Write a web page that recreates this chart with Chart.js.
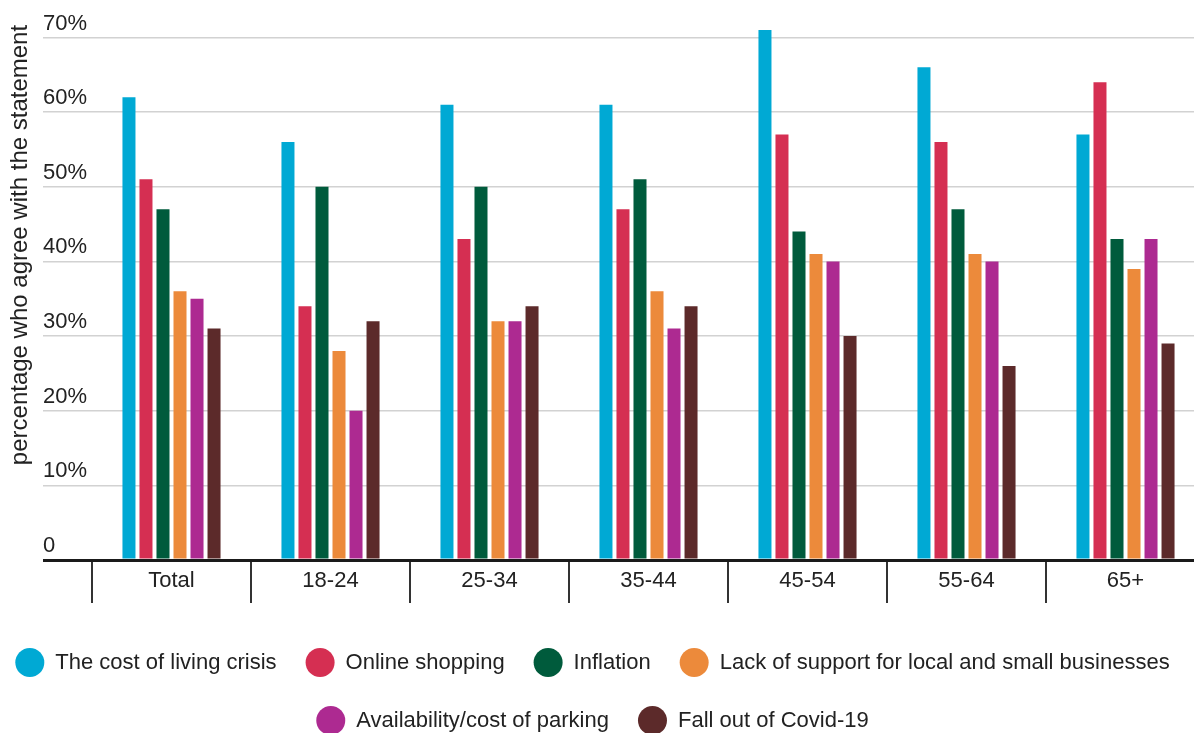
<!DOCTYPE html>
<html>
<head>
<meta charset="utf-8">
<script src="https://cdn.jsdelivr.net/npm/chart.js@4/dist/chart.umd.min.js"></script>
<style>
  html, body { margin: 0; padding: 0; width: 1194px; height: 733px; overflow: hidden; background: #fff; }
  #wrap { position: absolute; left: -20px; top: -70px; width: 1225px; height: 815px; }
</style>
</head>
<body>
<div id="wrap"><canvas id="c"></canvas></div>
<script>
const categories = ['Total', '18-24', '25-34', '35-44', '45-54', '55-64', '65+'];
const costOfLiving   = [62, 56, 61, 61, 71, 66, 57];
const onlineShopping = [51, 34, 43, 47, 57, 56, 64];
const inflation      = [47, 50, 50, 51, 44, 47, 43];
const lackOfSupport  = [36, 28, 32, 36, 41, 41, 39];
const parking        = [35, 20, 32, 31, 40, 40, 43];
const covid          = [31, 32, 34, 34, 30, 26, 29];
const seriesNames = ['The cost of living crisis', 'Online shopping', 'Inflation',
  'Lack of support for local and small businesses', 'Availability/cost of parking', 'Fall out of Covid-19'];
const yTicks = [0, 10, 20, 30, 40, 50, 60, 70];
const yTickLabels = ['0', '10%', '20%', '30%', '40%', '50%', '60%', '70%'];
const yTitle = 'percentage who agree with the statement';

const colors = ['#00a9d4', '#d52f52', '#005b3c', '#ec8a3b', '#ad2a91', '#5c2a2a'];
const seriesValues = [costOfLiving, onlineShopping, inflation, lackOfSupport, parking, covid];

Chart.defaults.font.family = '"Liberation Sans", Arial, Helvetica, sans-serif';
Chart.defaults.color = '#222';

new Chart(document.getElementById('c'), {
  type: 'bar',
  data: {
    labels: categories,
    datasets: seriesValues.map((vals, i) => ({
      label: seriesNames[i],
      data: vals,
      backgroundColor: colors[i],
      borderWidth: 0,
      barPercentage: 0.765,
      categoryPercentage: 0.642
    }))
  },
  options: {
    responsive: true,
    maintainAspectRatio: false,
    animation: false,
    layout: { padding: 0 },
    plugins: {
      tooltip: { enabled: false },
      legend: {
        position: 'bottom',
        labels: {
          boxWidth: 29,
          boxHeight: 29,
          useBorderRadius: true,
          borderRadius: 14.5,
          padding: 29,
          color: '#222',
          font: { size: 22 }
        }
      }
    },
    scales: {
      x: {
        z: 1,
        border: { display: true, color: '#1a1a1a', width: 3 },
        grid: { offset: true, drawOnChartArea: false, tickLength: 43, color: '#333', lineWidth: 2 },
        ticks: { padding: -35, autoSkip: false, maxRotation: 0, color: '#222', font: { size: 22 } },
        afterFit: s => { s.height = 59; }
      },
      y: {
        min: 0,
        max: 84.4,
        afterBuildTicks: s => { s.ticks = yTicks.map(v => ({ value: v })); },
        afterFit: s => { s.width = 112; },
        border: { display: false },
        grid: {
          color: c => (c.tick && c.tick.value === 0) ? '#1a1a1a' : '#d2d2d2',
          lineWidth: c => (c.tick && c.tick.value === 0) ? 3 : 1.5,
          tickLength: 49
        },
        ticks: {
          mirror: true,
          padding: -49,
          labelOffset: -14,
          crossAlign: 'near',
          color: '#222',
          font: { size: 22 },
          callback: v => yTickLabels[yTicks.indexOf(v)]
        },
        title: {
          display: true,
          text: yTitle,
          color: '#222',
          font: { size: 24 },
          padding: { top: 25.6, bottom: 0 }
        }
      }
    }
  }
});
</script>
</body>
</html>
